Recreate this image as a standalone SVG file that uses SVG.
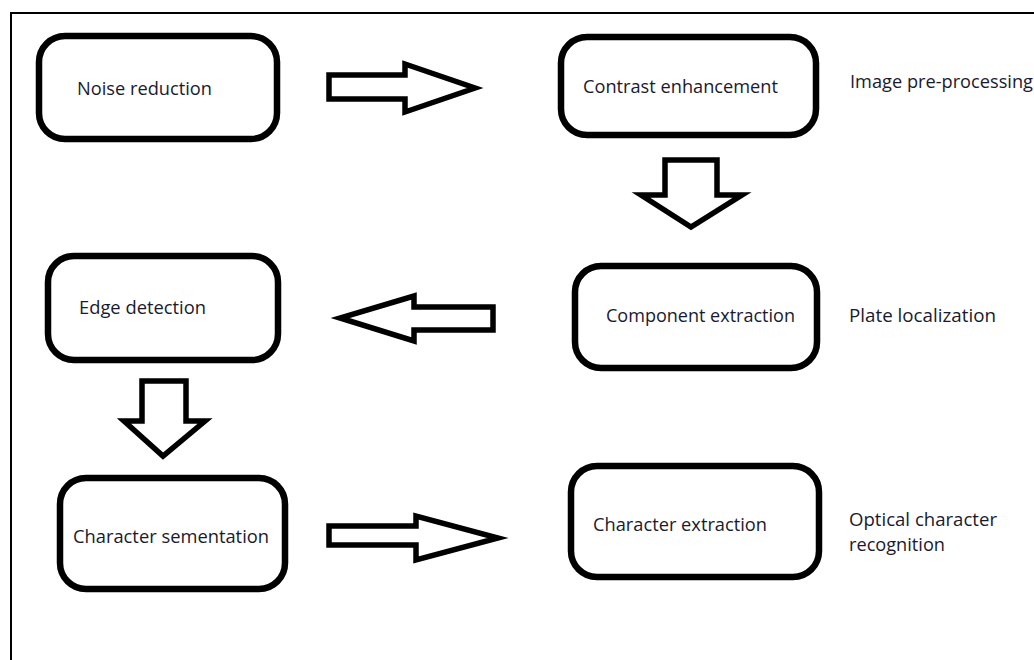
<svg xmlns="http://www.w3.org/2000/svg" width="1034" height="660" viewBox="0 0 1034 660">
<style>
.box{fill:#fff;stroke:#000;stroke-width:6.5}
.arr{fill:#fff;stroke:#000;stroke-width:5.5;stroke-linejoin:miter}
text{font-family:"Open Sans","Liberation Sans",sans-serif;font-size:18px;fill:#1a1a2e}
</style>
<rect x="0" y="0" width="1034" height="660" fill="#fff"/>
<rect x="11" y="13" width="1100" height="700" fill="none" stroke="#000" stroke-width="2"/>
<g id="connectors">
<path class="arr" d="M329,75 H405 V64 L475,88 L405,112 V99 H329 Z"/>
<path class="arr" d="M665,160 H717 V195 H742 L691,227 L641,195 H665 Z"/>
<path class="arr" d="M493,307 H414 V296 L340,318 L414,341 V330 H493 Z"/>
<path class="arr" d="M142,381 H186 V421 H205 L163,456 L124,421 H142 Z"/>
<path class="arr" d="M329,526 H416 V516 L498,538 L416,560 V545 H329 Z"/>
</g>
<g id="noise">
<rect class="box" x="39" y="36" width="238" height="103" rx="26"/>
<text x="77" y="95" textLength="135" lengthAdjust="spacingAndGlyphs">Noise reduction</text>
</g>
<g id="contrast">
<rect class="box" x="561" y="37" width="255" height="98" rx="26"/>
<text x="583" y="93" textLength="195" lengthAdjust="spacingAndGlyphs">Contrast enhancement</text>
</g>
<g id="label-preprocessing">
<text x="850" y="88" textLength="183" lengthAdjust="spacingAndGlyphs">Image pre-processing</text>
</g>
<g id="edge">
<rect class="box" x="48" y="256" width="230" height="104" rx="26"/>
<text x="79" y="314" textLength="127" lengthAdjust="spacingAndGlyphs">Edge detection</text>
</g>
<g id="component">
<rect class="box" x="575" y="266" width="242" height="102" rx="26"/>
<text x="606" y="322" textLength="189" lengthAdjust="spacingAndGlyphs">Component extraction</text>
</g>
<g id="label-plate">
<text x="849" y="322" textLength="147" lengthAdjust="spacingAndGlyphs">Plate localization</text>
</g>
<g id="segmentation">
<rect class="box" x="60" y="478" width="225" height="111" rx="26"/>
<text x="73" y="543" textLength="196" lengthAdjust="spacingAndGlyphs">Character sementation</text>
</g>
<g id="char-extraction">
<rect class="box" x="571" y="466" width="248" height="111" rx="26"/>
<text x="593" y="531" textLength="174" lengthAdjust="spacingAndGlyphs">Character extraction</text>
</g>
<g id="label-ocr">
<text x="849" y="526" textLength="148" lengthAdjust="spacingAndGlyphs">Optical character</text>
<text x="849" y="551" textLength="96" lengthAdjust="spacingAndGlyphs">recognition</text>
</g>
</svg>
